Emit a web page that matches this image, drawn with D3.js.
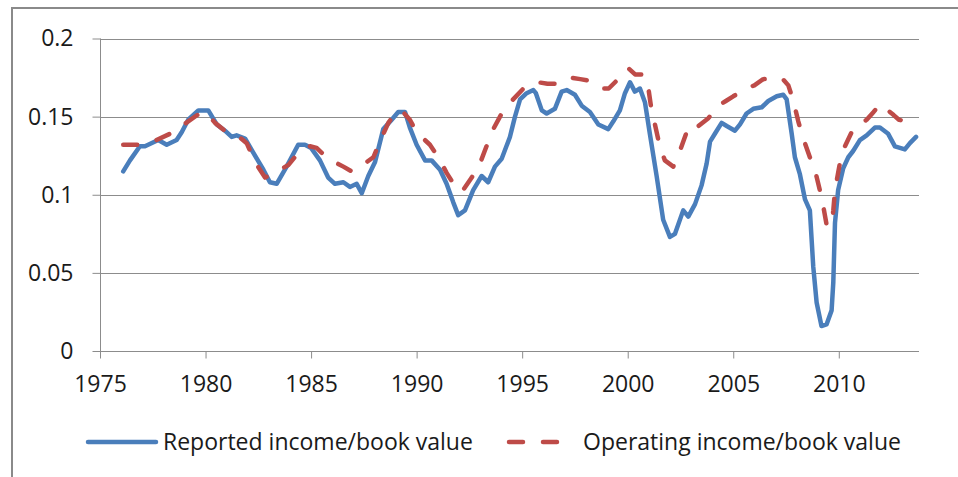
<!DOCTYPE html>
<html>
<head>
<meta charset="utf-8">
<script src="https://cdn.jsdelivr.net/npm/d3@7"></script>
<style>
  body { margin: 0; background: #fff; }
  text { font-family: "Open Sans", Lato, sans-serif; fill: #1a1a1a; }
</style>
</head>
<body>
<div id="chart"></div>
<script>
// data (year, ratio)
var reportedYears = [1976.10, 1976.42, 1976.89, 1977.13, 1977.76, 1978.16, 1978.63, 1978.87, 1979.18, 1979.66,
  1980.13, 1980.53, 1980.92, 1981.24, 1981.47, 1981.87, 1982.26, 1982.74, 1983.05, 1983.37,
  1983.84, 1984.39, 1984.71, 1985.00, 1985.42, 1985.81, 1986.13, 1986.53, 1986.84, 1987.16,
  1987.40, 1987.71, 1988.03, 1988.42, 1988.82, 1989.13, 1989.45, 1989.68, 1990.00, 1990.40,
  1990.71, 1991.11, 1991.42, 1991.74, 1991.97, 1992.29, 1992.68, 1993.08, 1993.39, 1993.71,
  1994.03, 1994.42, 1994.66, 1994.90, 1995.21, 1995.53, 1995.65, 1995.93, 1996.16, 1996.55,
  1996.87, 1997.11, 1997.50, 1997.82, 1998.21, 1998.61, 1999.08, 1999.32, 1999.63, 1999.87,
  2000.11, 2000.34, 2000.58, 2000.82, 2001.05, 2001.37, 2001.68, 2002.00, 2002.24, 2002.63,
  2002.87, 2003.19, 2003.50, 2003.74, 2003.90, 2004.13, 2004.45, 2004.69, 2005.08, 2005.32,
  2005.63, 2005.95, 2006.35, 2006.66, 2007.06, 2007.37, 2007.53, 2007.77, 2007.92, 2008.16,
  2008.40, 2008.63, 2008.79, 2008.95, 2009.18, 2009.42, 2009.66, 2009.74, 2009.82, 2009.97,
  2010.21, 2010.45, 2010.68, 2011.00, 2011.32, 2011.71, 2011.95, 2012.34, 2012.66, 2013.13,
  2013.37, 2013.66];
var reportedValues = [0.115, 0.122, 0.131, 0.131, 0.135, 0.132, 0.135, 0.140, 0.148, 0.154,
  0.154, 0.145, 0.141, 0.137, 0.138, 0.136, 0.127, 0.116, 0.108, 0.107,
  0.118, 0.132, 0.132, 0.130, 0.122, 0.111, 0.107, 0.108, 0.105, 0.107,
  0.101, 0.112, 0.121, 0.142, 0.148, 0.153, 0.153, 0.143, 0.132, 0.122,
  0.122, 0.116, 0.107, 0.095, 0.087, 0.090, 0.103, 0.112, 0.108, 0.118,
  0.123, 0.137, 0.150, 0.161, 0.165, 0.167, 0.165, 0.154, 0.152, 0.155,
  0.166, 0.167, 0.164, 0.157, 0.153, 0.145, 0.142, 0.147, 0.154, 0.165,
  0.172, 0.166, 0.168, 0.159, 0.139, 0.112, 0.084, 0.073, 0.075, 0.090,
  0.086, 0.094, 0.106, 0.120, 0.134, 0.139, 0.146, 0.144, 0.141, 0.145,
  0.152, 0.155, 0.156, 0.160, 0.163, 0.164, 0.161, 0.139, 0.124, 0.113,
  0.097, 0.090, 0.054, 0.031, 0.016, 0.017, 0.026, 0.044, 0.082, 0.103,
  0.117, 0.124, 0.128, 0.135, 0.138, 0.143, 0.143, 0.139, 0.131, 0.129,
  0.133, 0.137];

var operatingYears = [1976.10, 1976.89, 1977.68, 1978.47, 1979.18, 1979.82, 1980.13, 1980.45, 1981.00, 1981.50,
  1981.95, 1982.34, 1982.82, 1983.13, 1983.92, 1984.47, 1984.95, 1985.26, 1985.73, 1986.10,
  1986.53, 1986.92, 1987.24, 1987.95, 1988.26, 1988.66, 1988.97, 1989.29, 1989.68, 1990.00,
  1990.63, 1991.03, 1991.42, 1991.89, 1992.15, 1992.61, 1993.00, 1993.31, 1993.63, 1994.03,
  1994.50, 1995.13, 1995.76, 1996.20, 1996.71, 1997.26, 1997.75, 1998.21, 1998.76, 1999.10,
  1999.55, 2000.03, 2000.35, 2000.74, 2000.97, 2001.13, 2001.29, 2001.52, 2001.76, 2002.16,
  2002.47, 2002.79, 2003.11, 2003.26, 2003.82, 2004.29, 2004.65, 2005.00, 2005.63, 2006.00,
  2006.42, 2007.06, 2007.35, 2007.61, 2007.85, 2008.08, 2008.32, 2008.63, 2008.87, 2009.10,
  2009.26, 2009.42, 2009.66, 2009.74, 2009.82, 2010.05, 2010.29, 2010.68, 2011.32, 2011.65,
  2011.95, 2012.42, 2012.60, 2012.85, 2013.21, 2013.66];
var operatingValues = [0.132, 0.132, 0.135, 0.140, 0.147, 0.153, 0.151, 0.146, 0.140, 0.138,
  0.133, 0.121, 0.111, 0.113, 0.119, 0.128, 0.131, 0.130, 0.124, 0.121,
  0.118, 0.115, 0.117, 0.124, 0.134, 0.146, 0.152, 0.154, 0.148, 0.140,
  0.132, 0.124, 0.114, 0.104, 0.102, 0.111, 0.120, 0.131, 0.142, 0.152,
  0.160, 0.169, 0.172, 0.171, 0.171, 0.175, 0.174, 0.173, 0.168, 0.168,
  0.174, 0.181, 0.177, 0.177, 0.169, 0.154, 0.145, 0.131, 0.122, 0.118,
  0.128, 0.140, 0.145, 0.143, 0.149, 0.157, 0.160, 0.163, 0.168, 0.170,
  0.174, 0.175, 0.174, 0.170, 0.160, 0.147, 0.136, 0.124, 0.116, 0.103,
  0.093, 0.081, 0.080, 0.090, 0.103, 0.120, 0.131, 0.142, 0.148, 0.153,
  0.158, 0.153, 0.151, 0.148, 0.147, 0.149];

var xTicks = [1975, 1980, 1985, 1990, 1995, 2000, 2005, 2010];
var yTicks = [0, 0.05, 0.1, 0.15, 0.2];
var seriesNames = ["Reported income/book value", "Operating income/book value"];

var svgWidth = 958;
var svgHeight = 477;

var blue = "#4a7ebb";
var red = "#be4b48";
var gridColor = "#8c8c8c";
var fontSize = "23px";

var svg = d3.select("#chart")
    .append("svg")
    .attr("width", svgWidth)
    .attr("height", svgHeight);

// outer frame
svg.append("rect")
    .attr("x", 12)
    .attr("y", 8)
    .attr("width", 980)
    .attr("height", 500)
    .attr("fill", "none")
    .attr("stroke", "#8a8a8a")
    .attr("stroke-width", 2);

var x = d3.scaleLinear().domain([1975, 2013.8]).range([100, 919]);
var y = d3.scaleLinear().domain([0, 0.2]).range([351, 38.5]);

// gridlines
svg.append("g")
    .selectAll("line")
    .data(yTicks.slice(1))
    .enter()
    .append("line")
    .attr("x1", x(1975))
    .attr("x2", x(2013.8))
    .attr("y1", d => Math.round(y(d)) + 0.5)
    .attr("y2", d => Math.round(y(d)) + 0.5)
    .attr("stroke", gridColor)
    .attr("stroke-width", 1);

// axes
var leftAxis = d3.axisLeft(y)
    .tickValues(yTicks)
    .tickSize(8)
    .tickPadding(19)
    .tickFormat(d => d3.format("")(+d.toFixed(2)));
var bottomAxis = d3.axisBottom(x)
    .tickValues(xTicks)
    .tickSize(7)
    .tickPadding(17)
    .tickFormat(d3.format("d"));

var yAxisG = svg.append("g")
    .attr("transform", "translate(100.5,0)")
    .call(leftAxis);
var xAxisG = svg.append("g")
    .attr("transform", "translate(0,351.5)")
    .call(bottomAxis);

[yAxisG, xAxisG].forEach(function(g) {
    g.select(".domain").attr("stroke", gridColor);
    g.selectAll(".tick line").attr("stroke", gridColor);
    g.selectAll("text")
        .style("font-family", "'Open Sans', Lato, sans-serif")
        .style("font-size", fontSize)
        .attr("fill", "#1a1a1a");
});
xAxisG.select(".domain").attr("d", "M" + x(1975) + ",0H" + x(2013.8));
yAxisG.select(".domain").attr("d", "M0," + y(0) + "V" + y(0.2));

// lines
var line = d3.line()
    .x(d => x(d[0]))
    .y(d => y(d[1]));

var reported = reportedYears.map((d, i) => [d, reportedValues[i]]);
var operating = operatingYears.map((d, i) => [d, operatingValues[i]]);

svg.append("path")
    .datum(reported)
    .attr("d", line)
    .attr("fill", "none")
    .attr("stroke", blue)
    .attr("stroke-width", 4.5)
    .attr("stroke-linejoin", "round")
    .attr("stroke-linecap", "round");

svg.append("path")
    .datum(operating)
    .attr("d", line)
    .attr("fill", "none")
    .attr("stroke", red)
    .attr("stroke-width", 4.5)
    .attr("stroke-dasharray", "14,20")
    .attr("stroke-linejoin", "round")
    .attr("stroke-linecap", "round");

// legend
var legendY = 442;
svg.append("line")
    .attr("x1", 88).attr("x2", 156)
    .attr("y1", legendY).attr("y2", legendY)
    .attr("stroke", blue)
    .attr("stroke-width", 4.5)
    .attr("stroke-linecap", "round");
svg.append("text")
    .attr("x", 163)
    .attr("y", legendY + 8)
    .style("font-size", fontSize)
    .text(seriesNames[0]);

svg.append("line")
    .attr("x1", 509).attr("x2", 562)
    .attr("y1", legendY).attr("y2", legendY)
    .attr("stroke", red)
    .attr("stroke-width", 4.5)
    .attr("stroke-dasharray", "14,20")
    .attr("stroke-linecap", "round");
svg.append("text")
    .attr("x", 583)
    .attr("y", legendY + 8)
    .style("font-size", fontSize)
    .text(seriesNames[1]);
</script>
</body>
</html>
